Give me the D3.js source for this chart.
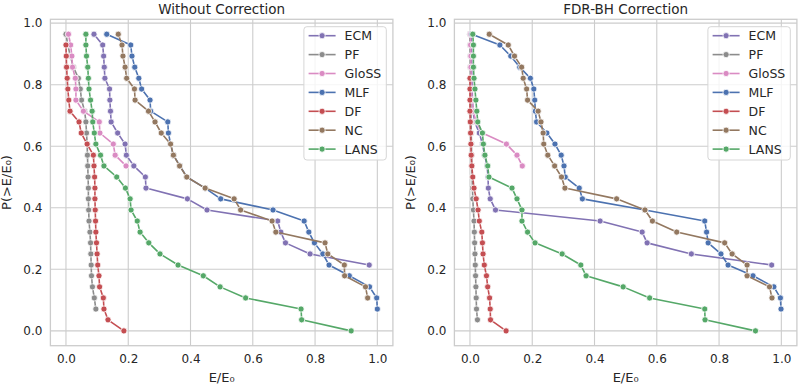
<!DOCTYPE html>
<html>
<head>
<meta charset="utf-8">
<script src="https://cdn.jsdelivr.net/npm/d3@7"></script>
<style>
  html, body { margin: 0; padding: 0; background: #fff; }
  svg { display: block; font-family: "DejaVu Sans", sans-serif; }
</style>
</head>
<body>
<div id="chart"></div>
<script>
// ── Datos ──────────────────────────────────────────────
// Niveles de P(>E/E0), de arriba a abajo
const Y_LEVELS = [0.964, 0.929, 0.893, 0.857, 0.821, 0.786, 0.750, 0.714, 0.679, 0.643, 0.607, 0.571, 0.536, 0.500,
  0.464, 0.429, 0.393, 0.357, 0.321, 0.286, 0.250, 0.214, 0.179, 0.143, 0.107, 0.071, 0.036, 0.000];

const METHODS = ["ECM", "PF", "GloSS", "MLF", "DF", "NC", "LANS"];
const X_TICKS = [0.0, 0.2, 0.4, 0.6, 0.8, 1.0];
const Y_TICKS = [0.0, 0.2, 0.4, 0.6, 0.8, 1.0];
const TITLES = ["Without Correction", "FDR-BH Correction"];

// E/E0 por nivel (null = sin punto)
const LEFT_ECM = [0.090, 0.118, 0.121, 0.123, 0.125, 0.140, 0.141, 0.143, 0.145, 0.166, 0.190, 0.194, 0.218, 0.255,
  0.257, 0.390, 0.453, 0.680, 0.690, 0.705, 0.784, 0.974];
const LEFT_PF = [0.000, 0.006, 0.014, 0.024, 0.040, 0.046, 0.050, 0.060, 0.064, 0.066, 0.068, 0.069, 0.070, 0.071,
  0.072, 0.072, 0.073, 0.074, 0.077, 0.079, 0.080, 0.081, 0.082, 0.085, 0.091, 0.096];
const LEFT_GLOSS = [0.008, 0.015, 0.019, 0.021, 0.030, 0.032, 0.032, 0.056, 0.107, 0.109, 0.152, 0.158, 0.193];
const LEFT_MLF = [0.131, 0.208, 0.212, 0.221, 0.234, 0.243, 0.270, 0.272, 0.327, 0.329, 0.336, 0.345, 0.366, 0.388,
  0.447, 0.497, 0.665, 0.765, 0.780, 0.798, 0.825, 0.845, 0.910, 0.975, 0.998, 1.000];
const LEFT_DF = [null, 0.000, 0.001, 0.002, 0.004, 0.006, 0.009, 0.013, 0.042, 0.049, 0.068, 0.088, 0.090, 0.092,
  0.093, 0.093, 0.094, 0.095, 0.096, 0.098, 0.100, 0.102, 0.106, 0.108, 0.120, 0.122, 0.135, 0.186];
const LEFT_NC = [0.168, 0.180, 0.183, 0.190, 0.195, 0.220, 0.222, 0.265, 0.286, 0.306, 0.336, 0.345, 0.365, 0.388,
  0.447, 0.540, 0.561, 0.662, 0.674, 0.832, 0.841, 0.894, 0.895, 0.962, 0.969];
const LEFT_LANS = [0.064, 0.064, 0.066, 0.070, 0.072, 0.074, 0.079, 0.084, 0.086, 0.091, 0.096, 0.111, 0.122, 0.163,
  0.191, 0.206, 0.209, 0.229, 0.238, 0.266, 0.302, 0.360, 0.441, 0.495, 0.577, 0.755, 0.757, 0.916];

const RIGHT_ECM = [0.004, 0.004, 0.005, 0.005, 0.006, 0.007, 0.008, 0.010, 0.015, 0.030, 0.040, 0.047, 0.055, 0.058,
  0.059, 0.065, 0.082, 0.418, 0.553, 0.569, 0.711, 0.969];
const RIGHT_PF = [0.000, 0.000, 0.001, 0.001, 0.002, 0.002, 0.003, 0.003, 0.004, 0.004, 0.005, 0.005, 0.006, 0.007,
  0.008, 0.009, 0.011, 0.013, 0.014, 0.015, 0.016, 0.017, 0.018, 0.019, 0.020, 0.021, 0.024];
const RIGHT_GLOSS = [0.002, 0.002, 0.003, 0.003, 0.004, 0.005, 0.007, 0.010, 0.020, 0.040, 0.117, 0.151, 0.168];
const RIGHT_MLF = [0.006, 0.096, 0.131, 0.160, 0.194, 0.205, 0.208, 0.210, 0.214, 0.247, 0.273, 0.293, 0.302, 0.306,
  0.351, 0.361, 0.562, 0.754, 0.760, 0.765, 0.806, 0.829, 0.909, 0.976, 0.997, 0.999];
const RIGHT_DF = [null, null, null, null, 0.000, 0.000, 0.000, 0.000, 0.001, 0.002, 0.003, 0.004, 0.006, 0.009,
  0.013, 0.020, 0.026, 0.030, 0.038, 0.040, 0.042, 0.046, 0.053, 0.057, 0.063, 0.065, 0.066, 0.116];
const RIGHT_NC = [0.062, 0.123, 0.143, 0.166, 0.171, 0.182, 0.185, 0.219, 0.228, 0.235, 0.237, 0.250, 0.272, 0.294,
  0.305, 0.471, 0.562, 0.586, 0.664, 0.818, 0.842, 0.890, 0.890, 0.962, 0.970];
const RIGHT_LANS = [0.009, 0.011, 0.011, 0.011, 0.013, 0.016, 0.019, 0.022, 0.025, 0.040, 0.043, 0.048, 0.057, 0.061,
  0.135, 0.151, 0.167, 0.167, 0.185, 0.209, 0.296, 0.356, 0.373, 0.492, 0.577, 0.754, 0.755, 0.917];

(function () {
  "use strict";

  // ── Configuración ──────────────────────────────────────
  const width = 800;
  const height = 388;
  const COLORS = {
    ECM: "#8172b3",
    PF: "#8c8c8c",
    GloSS: "#da8bc3",
    MLF: "#4c72b0",
    DF: "#c44e52",
    NC: "#937860",
    LANS: "#55a868",
  };
  const TEXT = "#262626";
  const GRID = "#cccccc";

  const PANELS = [
    { left: 50.4, right: 392.9, title: TITLES[0], series: [LEFT_ECM, LEFT_PF, LEFT_GLOSS, LEFT_MLF, LEFT_DF, LEFT_NC, LEFT_LANS] },
    { left: 454.4, right: 796.9, title: TITLES[1], series: [RIGHT_ECM, RIGHT_PF, RIGHT_GLOSS, RIGHT_MLF, RIGHT_DF, RIGHT_NC, RIGHT_LANS] },
  ];
  const TOP = 19.3;
  const BOTTOM = 345.7;

  const svg = d3.select("#chart").append("svg").attr("width", width).attr("height", height);

  function drawPanel(p) {
    const x = d3.scaleLinear().domain([-0.05, 1.05]).range([p.left, p.right]);
    const y = d3.scaleLinear().domain([-0.0482, 1.0125]).range([BOTTOM, TOP]);
    const g = svg.append("g");

    // Rejilla
    g.selectAll(".gx")
      .data(X_TICKS)
      .join("line")
      .attr("x1", (d) => x(d))
      .attr("x2", (d) => x(d))
      .attr("y1", TOP)
      .attr("y2", BOTTOM)
      .attr("stroke", GRID)
      .attr("stroke-width", 1.1);
    g.selectAll(".gy")
      .data(Y_TICKS)
      .join("line")
      .attr("x1", p.left)
      .attr("x2", p.right)
      .attr("y1", (d) => y(d))
      .attr("y2", (d) => y(d))
      .attr("stroke", GRID)
      .attr("stroke-width", 1.1);

    // Marco
    g.append("rect")
      .attr("x", p.left)
      .attr("y", TOP)
      .attr("width", p.right - p.left)
      .attr("height", BOTTOM - TOP)
      .attr("fill", "none")
      .attr("stroke", GRID)
      .attr("stroke-width", 1.3);

    // Ejes (sin líneas de tick)
    const xAxis = g.append("g").attr("transform", `translate(0,${BOTTOM})`)
      .call(d3.axisBottom(x).tickValues(X_TICKS).tickFormat(d3.format(".1f")).tickSize(0).tickPadding(9));
    const yAxis = g.append("g").attr("transform", `translate(${p.left},0)`)
      .call(d3.axisLeft(y).tickValues(Y_TICKS).tickFormat(d3.format(".1f")).tickSize(0).tickPadding(8));
    [xAxis, yAxis].forEach((a) => {
      a.select(".domain").remove();
      a.selectAll("text").attr("font-size", "12px").attr("fill", TEXT).attr("font-family", "DejaVu Sans");
    });

    // Series
    const line = d3.line().x((d) => x(d[0])).y((d) => y(d[1]));
    METHODS.forEach((m, i) => {
      const pts = p.series[i].map((v, j) => [v, Y_LEVELS[j]]).filter((d) => d[0] !== null);
      g.append("path")
        .attr("d", line(pts))
        .attr("fill", "none")
        .attr("stroke", COLORS[m])
        .attr("stroke-width", 1.6)
        .attr("stroke-linejoin", "round");
      g.append("g")
        .selectAll("circle")
        .data(pts)
        .join("circle")
        .attr("cx", (d) => x(d[0]))
        .attr("cy", (d) => y(d[1]))
        .attr("r", 3.1)
        .attr("fill", COLORS[m])
        .attr("stroke", "white")
        .attr("stroke-width", 0.8);
    });

    // Títulos y etiquetas
    const cx = (p.left + p.right) / 2;
    svg.append("text").attr("x", cx).attr("y", 13.5).attr("text-anchor", "middle")
      .attr("font-size", "13.5px").attr("fill", TEXT).text(p.title);
    svg.append("text").attr("x", cx).attr("y", 382).attr("text-anchor", "middle")
      .attr("font-size", "13px").attr("fill", TEXT).text("E/E₀");
    svg.append("text").attr("transform", `translate(${p.left - 39},${(TOP + BOTTOM) / 2}) rotate(-90)`)
      .attr("text-anchor", "middle").attr("font-size", "13px").attr("fill", TEXT).text("P(>E/E₀)");

    // Leyenda
    const lw = 82.4;
    const lx = p.right - 6.6 - lw;
    const ly = TOP + 7.4;
    const leg = svg.append("g").attr("transform", `translate(${lx},${ly})`);
    leg.append("rect").attr("width", lw).attr("height", 133.3).attr("rx", 3)
      .attr("fill", "white").attr("fill-opacity", 0.8).attr("stroke", "#d6d6d6").attr("stroke-width", 1);
    METHODS.forEach((m, i) => {
      const ey = 9 + i * 18.9;
      leg.append("line").attr("x1", 4.7).attr("x2", 31.7).attr("y1", ey).attr("y2", ey)
        .attr("stroke", COLORS[m]).attr("stroke-width", 1.6);
      leg.append("circle").attr("cx", 18.2).attr("cy", ey).attr("r", 3.1)
        .attr("fill", COLORS[m]).attr("stroke", "white").attr("stroke-width", 0.8);
      leg.append("text").attr("x", 40.7).attr("y", ey + 4.6)
        .attr("font-size", "12.5px").attr("fill", TEXT).text(m);
    });
  }

  PANELS.forEach(drawPanel);
})();
</script>
</body>
</html>
